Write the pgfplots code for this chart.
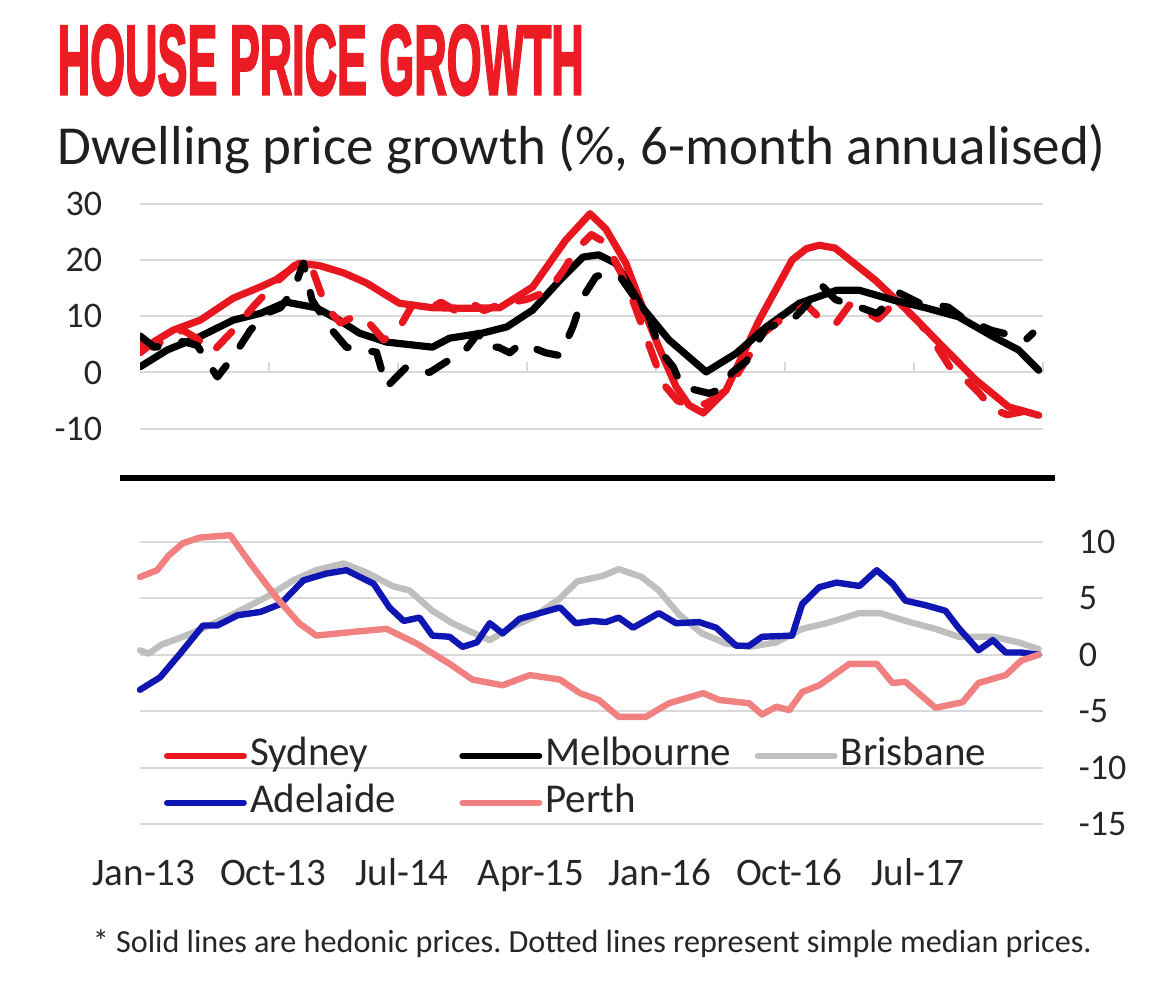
\documentclass[border=0pt]{standalone}
\usepackage{pgfplots}
\pgfplotsset{compat=1.18}
\usepackage{fontspec}
\setmainfont{Carlito}
\newfontfamily\titlefont[BoldFeatures={FakeBold=3}]{Liberation Sans}
\definecolor{syd}{RGB}{232,22,30}
\definecolor{bri}{RGB}{191,191,191}
\definecolor{ade}{RGB}{16,22,178}
\definecolor{per}{RGB}{241,128,128}
\definecolor{gridc}{RGB}{217,217,217}
\definecolor{titlered}{RGB}{235,28,36}
\frenchspacing
\begin{document}
\begin{tikzpicture}[x=0.25pt,y=-0.25pt]
\useasboundingbox (0,0) rectangle (1160,994);
\node[anchor=south west, inner sep=0pt, text=titlered] at (57,96) {\resizebox{131.5pt}{17.25pt}{\titlefont\bfseries HOUSE PRICE GROWTH}};
\node[anchor=base west, inner sep=0pt, text=black!88] at (57,165) {\resizebox{262pt}{!}{Dwelling price growth (\%, 6-month annualised)}};
\node[anchor=base west, inner sep=0pt, text=black!85] at (92,953) {\resizebox{249.75pt}{!}{* Solid lines are hedonic prices. Dotted lines represent simple median prices.}};
\draw[line width=1.5pt] (120,478) -- (1055,478);

\begin{axis}[
  at={(35pt,-107.2pt)}, anchor=south west, scale only axis,
  width=225.75pt, height=56.3pt,
  xmin=0, xmax=63, ymin=-10, ymax=30,
  axis x line=middle, axis y line=left,
  axis line style={-},
  x axis line style={draw=gridc, line width=0.5pt},
  y axis line style={draw=none},
  xtick={0,9,...,63}, xticklabels={},
  xtick style={draw=gridc, line width=0.6pt},
  ytick={-10,0,10,20,30}, yticklabels={-10,0,10,20,30},
  ytick style={draw=none},
  tick align=inside, major tick length=2.5pt,
  ymajorgrids, major grid style={draw=gridc, line width=0.5pt},
  yticklabel style={anchor=east, inner sep=0pt, xshift=-9.25pt, font=\fontsize{9pt}{10pt}\selectfont, text=black!85},
  every axis plot/.append style={line width=1.8pt, line join=round, line cap=round},
]
% Sydney hedonic
\addplot[syd] coordinates {(0,3.5) (1,5.5) (2.3,7.5) (4.2,9.3) (6.5,13.2) (8.4,15.2) (9.5,16.5) (11.1,19.4) (12.5,19) (14.2,17.7) (15.8,15.9) (18.1,12.3) (20.4,11.5) (23,11.4) (25.1,11.5) (27.4,15.2) (29.7,23.5) (31.4,28.2) (32.5,25.5) (33.9,19.4) (35,12) (36.2,4.5) (37.4,-2.5) (38.3,-5.8) (39.3,-7.2) (40.9,-3.1) (43.2,9.3) (45.5,20) (46.5,22) (47.4,22.6) (48.5,22.1) (51.3,16.4) (53.7,10.6) (56,4.6) (58.3,-1.3) (60.6,-6.1) (62.7,-7.6)};
% Melbourne hedonic
\addplot[black] coordinates {(0,1) (1.9,4) (4.2,6.4) (6.5,9.3) (8.4,10.5) (10.2,12.5) (12.3,11.5) (13.9,9.3) (15.3,7) (17.2,5.4) (20.4,4.5) (21.6,6.1) (23.9,7) (25.6,8.1) (27.4,11.1) (29.3,16.4) (30.9,20.5) (32,20.9) (33.2,19.4) (35,11.7) (36.9,5.8) (39.5,0.1) (41.6,3.4) (43.7,8.1) (46,12.3) (48.6,14.6) (50.2,14.6) (52.5,12.9) (54.8,11.5) (57.1,9.9) (59.5,6.4) (61.3,4) (62.7,0.4)};
% Sydney median
\addplot[syd, dash pattern=on 5.5pt off 6pt] coordinates {(0,5) (1,4.5) (2,6.5) (3,7.5) (4,6) (5,3.5) (6.5,7.5) (8,12) (9.5,16) (11,19.5) (12,18.5) (13,11.5) (14,8.8) (15,10) (15.8,9.3) (17,5.8) (18,7.5) (19,12) (20,11) (21,12.5) (22,11) (23,12.5) (24,11) (25,12) (26,12.5) (27,13) (28.5,14.5) (29.5,18) (30.5,22) (31.5,24.5) (32.5,23) (33.5,18) (34.5,12) (35.5,5) (36.5,-2) (37.5,-5) (38.5,-6) (39.5,-5.5) (40.5,-4) (41.5,-1) (42.5,3) (43.5,7) (44.5,9) (45.5,10.5) (46.5,12) (47.5,9.5) (48.5,8.5) (49.5,12) (50.5,11) (51.5,9.5) (52.5,12) (53.5,11) (54.5,8.5) (55.5,5) (56.5,1) (57.5,-1) (58.5,-3.5) (59.5,-6.5) (60.5,-7.5) (61.5,-7) (62.7,-5.5)};
% Melbourne median
\addplot[black, dash pattern=on 5.5pt off 6pt] coordinates {(0,6.5) (1,4.5) (2,4.8) (3,5.5) (4,4.8) (4.8,1.5) (5.4,-0.8) (6.5,2.8) (7.7,7.5) (8.8,10.5) (9.8,11.5) (10.7,14.6) (11.4,19.4) (12,12.9) (13.2,8.1) (14.4,4.5) (15.5,4) (16.5,3.6) (17.2,-2.6) (18.6,1) (19.4,0.5) (20.2,0) (21.8,2.6) (22.7,4) (23.6,7) (24,4.5) (25,4.5) (25.8,3.5) (26.5,5) (27.4,4.4) (28.3,3.5) (29.3,3) (30.2,8.1) (30.9,13.4) (31.8,17) (32.3,17.5) (33.5,17) (34.6,13) (35.5,10) (36.3,3.8) (37.2,1) (37.8,-2.5) (39.7,-3.7) (40.5,-3) (41.3,0) (42.3,2) (43.7,8) (45.5,9.3) (46.5,12) (47.4,15.9) (48.5,13) (49.5,12) (50.2,11.6) (51.4,10.5) (52.3,12.5) (53,14.1) (54.4,12.3) (55.5,12) (56.4,11.6) (57.6,9.3) (58.5,8.5) (59.4,7.5) (60.2,7) (61.8,5.8) (62.3,7)};
\end{axis}

\begin{axis}[
  at={(35pt,-206pt)}, anchor=south west, scale only axis,
  width=225.75pt, height=70.5pt,
  xmin=0, xmax=63, ymin=-15, ymax=10,
  clip=false,
  axis x line=bottom, axis y line=right,
  axis line style={draw=none},
  xtick={0,9,...,54}, xticklabels={Jan-13,Oct-13,Jul-14,Apr-15,Jan-16,Oct-16,Jul-17},
  ytick={-15,-10,...,10}, yticklabels={-15,-10,-5,0,5,10},
  tick style={draw=none}, tick align=inside, major tick length=0pt,
  ymajorgrids, major grid style={draw=gridc, line width=0.5pt},
  xticklabel style={anchor=base, inner sep=0pt, yshift=-15.5pt, xshift=1pt, font=\fontsize{9.75pt}{11pt}\selectfont, text=black!85},
  yticklabel style={anchor=west, inner sep=0pt, xshift=8.75pt, font=\fontsize{9pt}{10pt}\selectfont, text=black!85},
  every axis plot/.append style={line width=1.6pt, line join=round, line cap=round},
  legend columns=3,
  legend cell align=left,
  legend image code/.code={\path (0pt,0pt) (20.75pt,0pt); \draw[#1, line cap=round] (0.8pt,0pt) -- (19.95pt,0pt);},
  legend style={at={(0.0221,0.313)}, anchor=north west, draw=none, fill=none, inner sep=0pt,
    row sep=2pt, font=\fontsize{10.25pt}{12pt}\selectfont,
    nodes={inner sep=0pt, text height=7.3pt, text depth=2.4pt, text=black!85},
    /tikz/every odd column/.append style={column sep=0pt}},
]
\addlegendimage{syd, line width=1.6pt}
\addlegendentry{\makebox[51.5pt][l]{Sydney}}
\addlegendimage{black, line width=1.6pt}
\addlegendentry{\makebox[51.5pt][l]{Melbourne}}
\addlegendimage{bri, line width=1.6pt}
\addlegendentry{\makebox[51.5pt][l]{Brisbane}}
% Brisbane
\addplot[bri, forget plot] coordinates {(0,0.4) (0.6,0.1) (1.5,0.9) (3,1.6) (4.5,2.4) (6.5,3.6) (8.8,5.1) (10.7,6.6) (12.3,7.5) (14.2,8.1) (15.8,7.3) (17.6,6.1) (18.8,5.7) (20.4,3.9) (21.8,2.8) (22.8,2.2) (24.4,1.3) (25.8,2.4) (27.4,3.3) (29.3,5) (30.5,6.5) (32.3,7) (33.4,7.6) (35,6.9) (36.2,5.7) (37.6,3.6) (39.2,1.9) (40.9,1) (42.5,0.7) (44.4,1.1) (46.2,2.3) (47.9,2.8) (50.2,3.7) (51.6,3.7) (53.7,2.9) (55.5,2.3) (57.1,1.6) (59.5,1.6) (61.3,1.1) (62.7,0.5)};
% Adelaide
\addplot[ade] coordinates {(0,-3.1) (1.4,-2) (2.8,0.1) (4.4,2.6) (5.4,2.6) (6.8,3.5) (8.4,3.8) (9.8,4.5) (11.4,6.6) (13,7.2) (14.4,7.5) (16.3,6.3) (17.4,4.2) (18.4,3) (19.5,3.3) (20.4,1.7) (21.6,1.6) (22.5,0.7) (23.5,1.1) (24.4,2.8) (25.3,1.9) (26.5,3.2) (27.9,3.7) (29.3,4.2) (30.4,2.8) (31.6,3) (32.5,2.9) (33.4,3.3) (34.4,2.4) (36.2,3.7) (37.4,2.8) (39,2.9) (40.2,2.4) (41.6,0.8) (42.5,0.8) (43.4,1.6) (45.5,1.7) (46.2,4.5) (47.4,6) (48.6,6.4) (50.2,6.1) (51.4,7.5) (52.5,6.3) (53.4,4.8) (54.8,4.4) (56.2,3.9) (57.1,2.4) (58.5,0.4) (59.5,1.3) (60.4,0.2) (61.5,0.2) (62.7,0)};
\addlegendentry{\makebox[51.5pt][l]{Adelaide}}
% Perth
\addplot[per] coordinates {(0,6.9) (1.2,7.5) (2,8.8) (3,9.9) (4.2,10.4) (6.3,10.6) (7.7,8.1) (9.5,5.1) (11.1,2.8) (12.3,1.7) (14.6,2) (17.2,2.3) (19.3,1) (21.6,-0.8) (23.2,-2.2) (25.3,-2.7) (27.2,-1.8) (29.3,-2.2) (30.7,-3.4) (32,-4) (33.4,-5.5) (35.3,-5.5) (36.9,-4.3) (39.3,-3.4) (40.4,-4) (42.5,-4.3) (43.4,-5.3) (44.4,-4.6) (45.3,-4.9) (46.2,-3.3) (47.4,-2.7) (49.5,-0.8) (51.4,-0.8) (52.5,-2.5) (53.4,-2.4) (55.5,-4.7) (57.4,-4.2) (58.5,-2.5) (60.4,-1.8) (61.5,-0.5) (62.7,0)};
\addlegendentry{\makebox[51.5pt][l]{Perth}}
\end{axis}
\end{tikzpicture}
\end{document}
